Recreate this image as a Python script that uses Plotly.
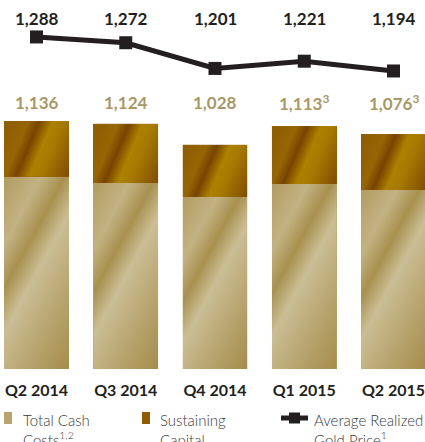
import base64
import plotly.graph_objects as go

quarters = ["Q2 2014", "Q3 2014", "Q4 2014", "Q1 2015", "Q2 2015"]
cash_costs = [880, 852, 788, 847, 820]
sustaining = [256, 272, 240, 266, 256]
aisc_labels = ["1,136", "1,124", "1,028", "1,113<sup>3</sup>", "1,076<sup>3</sup>"]
gold_price = [1288, 1272, 1201, 1221, 1194]
gold_labels = ["1,288", "1,272", "1,201", "1,221", "1,194"]

W, H = 425, 442
T, B = 0, 73
PH = H - T - B
XR = [-0.409, 4.353]
YR = [0, 1690]
BW = 0.728


def py(pix):
    """pixel y (from top of page) -> paper y"""
    return (H - B - pix) / PH


def px(pix):
    return pix / W


CASH = "#b8a46c"
SUST = "#935f08"
DARK = "#231f20"
TAN = "#a89867"
TXT = "#3a3a3a"

CASH_STOPS = [(0.0, "#b19c60"), (0.22, "#c3b283"), (0.36, "#a8914f"), (0.5, "#cbbe95"),
              (0.72, "#b9a672"), (1.0, "#a48c4a")]
SUST_STOPS = [(0.0, "#8e5c02"), (0.28, "#966504"), (0.4, "#774400"), (0.55, "#ab8100"),
              (0.68, "#a67a02"), (1.0, "#7f4b00")]


def gradient_svg(wpx, hpx, stops, nx, ny):
    L = nx * wpx + ny * hpx
    st = "".join(f'<stop offset="{o}" stop-color="{c}"/>' for o, c in stops)
    svg = (f'<svg xmlns="http://www.w3.org/2000/svg" width="{wpx:.1f}" height="{hpx:.1f}" '
           f'viewBox="0 0 {wpx:.2f} {hpx:.2f}" preserveAspectRatio="none">'
           f'<defs><linearGradient id="g" gradientUnits="userSpaceOnUse" x1="0" y1="0" '
           f'x2="{nx * L:.2f}" y2="{ny * L:.2f}">{st}</linearGradient></defs>'
           f'<rect x="0" y="0" width="{wpx:.2f}" height="{hpx:.2f}" fill="url(#g)"/></svg>')
    return "data:image/svg+xml;base64," + base64.b64encode(svg.encode()).decode()


fig = go.Figure()
fig.add_trace(go.Bar(x=quarters, y=cash_costs, marker=dict(color=CASH, line=dict(width=0)),
                     width=BW, name="Total Cash Costs", showlegend=False))
fig.add_trace(go.Bar(x=quarters, y=sustaining, marker=dict(color=SUST, line=dict(width=0)),
                     width=BW, name="Sustaining Capital", showlegend=False))
fig.add_trace(go.Scatter(x=quarters, y=gold_price, yaxis="y2", mode="lines+markers",
                         line=dict(color=DARK, width=5),
                         marker=dict(symbol="square", size=13, color=DARK),
                         name="Average Realized Gold Price", showlegend=False))

# gradient "sheen" overlays placed on each bar segment through the axes
xs = W / (XR[1] - XR[0])
ys = PH / (YR[1] - YR[0])
images = []
for i, (c, s) in enumerate(zip(cash_costs, sustaining)):
    wpx = BW * xs
    images.append(dict(source=gradient_svg(wpx, c * ys, CASH_STOPS, 0.879, 0.476),
                       xref="x", yref="y", x=i - BW / 2, y=c, sizex=BW, sizey=c,
                       xanchor="left", yanchor="top", sizing="stretch", layer="above"))
    images.append(dict(source=gradient_svg(wpx, s * ys, SUST_STOPS, 0.92, 0.39),
                       xref="x", yref="y", x=i - BW / 2, y=c + s, sizex=BW, sizey=s,
                       xanchor="left", yanchor="top", sizing="stretch", layer="above"))

ann = []
for q, t in zip(quarters, gold_labels):
    ann.append(dict(x=q, y=py(18), xref="x", yref="paper", text=t, showarrow=False,
                    yanchor="middle", font=dict(family="Lato", size=17, color=DARK, weight="bold")))
for q, t in zip(quarters, aisc_labels):
    ann.append(dict(x=q, y=py(103), xref="x", yref="paper", text=t, showarrow=False,
                    yanchor="middle", font=dict(family="Lato", size=17, color=TAN, weight="bold")))

legend_items = [
    (21, "Total Cash<br>Costs<sup>1,2</sup>"),
    (158, "Sustaining<br>Capital"),
    (312, "Average Realized<br>Gold Price<sup>1</sup>"),
]
for xpix, t in legend_items:
    ann.append(dict(x=px(xpix), y=py(409), xref="paper", yref="paper", text=t, showarrow=False,
                    xanchor="left", yanchor="top", align="left",
                    font=dict(family="Lato", size=15, color=TXT, weight=300)))

shapes = [
    dict(type="rect", xref="paper", yref="paper", x0=px(4), x1=px(12), y0=py(424), y1=py(412),
         fillcolor="#b8a46c", line=dict(width=0)),
    dict(type="rect", xref="paper", yref="paper", x0=px(142), x1=px(150), y0=py(424), y1=py(412),
         fillcolor="#8f5c04", line=dict(width=0)),
    dict(type="line", xref="paper", yref="paper", x0=px(281), x1=px(308), y0=py(418), y1=py(418),
         line=dict(color=DARK, width=5)),
    dict(type="rect", xref="paper", yref="paper", x0=px(289), x1=px(300), y0=py(423.5), y1=py(412.5),
         fillcolor=DARK, line=dict(width=0)),
]

fig.update_layout(
    width=W, height=H,
    margin=dict(l=0, r=0, t=T, b=B, pad=0),
    barmode="stack",
    paper_bgcolor="white", plot_bgcolor="white",
    showlegend=False,
    xaxis=dict(range=XR, showgrid=False, zeroline=False, showline=False,
               ticks="", ticklabelstandoff=10,
               tickfont=dict(family="Lato", size=16, color=DARK, weight="bold")),
    yaxis=dict(range=YR, visible=False, showgrid=False),
    yaxis2=dict(range=[371, 1390], overlaying="y", visible=False, showgrid=False),
    annotations=ann,
    shapes=shapes,
    images=images,
)

fig.write_html("out.html")
